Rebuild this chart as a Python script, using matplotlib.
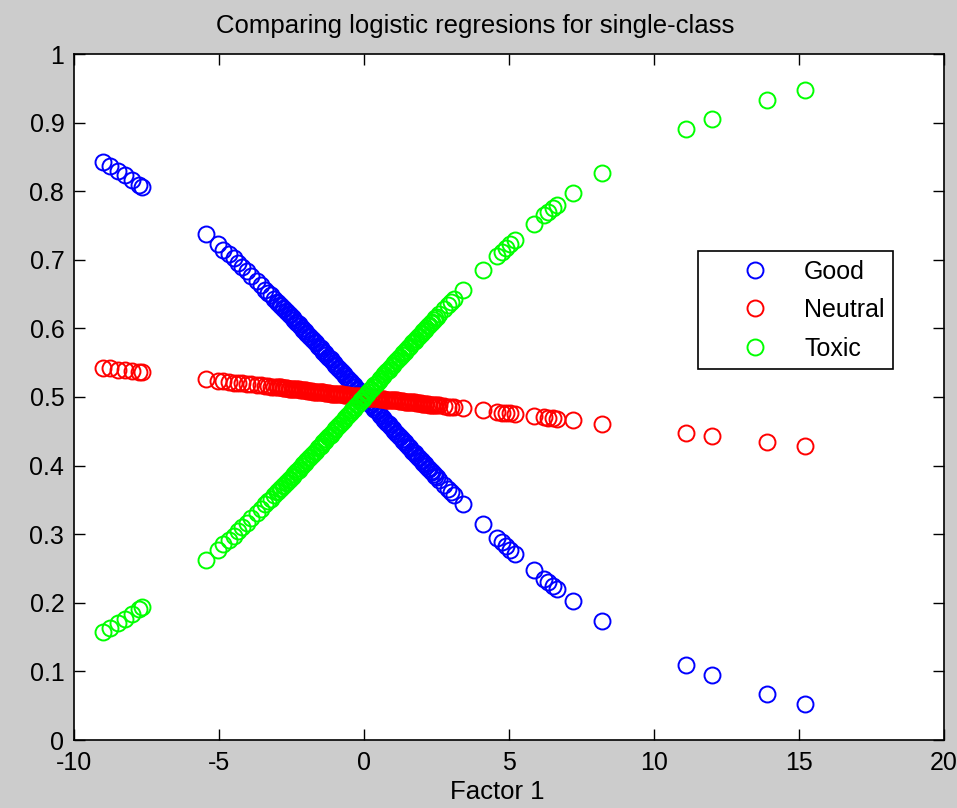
import matplotlib
matplotlib.use("Agg")
import matplotlib.pyplot as plt

# factor-1 scores (shared by the three regressions)
factor1 = [-9.0, -8.75, -8.5, -8.25, -8.0, -7.75, -7.65,
           -5.45, -5.05, -4.85, -4.65, -4.5, -4.35, -4.2, -4.05, -3.9, -3.7, -3.55, -3.4,
           -3.3, -3.2, -3.1, -3.0, -2.9, -2.8, -2.7, -2.6, -2.5, -2.4,
           -2.3, -2.2, -2.1, -2.0, -1.9, -1.8, -1.7, -1.6, -1.5, -1.4,
           -1.3, -1.2, -1.1, -1.0, -0.9, -0.8, -0.7, -0.6, -0.5, -0.4,
           -0.3, -0.2, -0.1,
           0.0, 0.1, 0.2, 0.3, 0.4, 0.5, 0.6, 0.7, 0.8, 0.9,
           1.0, 1.1, 1.2, 1.3, 1.4, 1.5, 1.6, 1.7, 1.8, 1.9,
           2.0, 2.1, 2.2, 2.3, 2.4, 2.5, 2.6,
           2.75, 2.9, 3.0, 3.1, 3.4,
           4.1, 4.6, 4.75, 4.9, 5.05, 5.2, 5.85, 6.2, 6.35, 6.5, 6.65, 7.2, 8.2,
           11.1, 12.0, 13.9, 15.2]

good = [0.843, 0.837, 0.830, 0.823, 0.816, 0.809, 0.806,
        0.738, 0.723, 0.715, 0.708, 0.702, 0.696, 0.690, 0.683, 0.677, 0.669, 0.663, 0.656,
        0.652, 0.648, 0.643, 0.639, 0.634, 0.630, 0.626, 0.621, 0.617, 0.612,
        0.608, 0.603, 0.598, 0.594, 0.589, 0.585, 0.580, 0.575, 0.571, 0.566,
        0.561, 0.557, 0.552, 0.547, 0.543, 0.538, 0.533, 0.528, 0.524, 0.519,
        0.514, 0.510, 0.505,
        0.500, 0.495, 0.490, 0.486, 0.481, 0.476, 0.472, 0.467, 0.462, 0.457,
        0.453, 0.448, 0.443, 0.439, 0.434, 0.429, 0.425, 0.420, 0.415, 0.411,
        0.406, 0.402, 0.397, 0.392, 0.388, 0.383, 0.379,
        0.372, 0.366, 0.361, 0.357, 0.344,
        0.315, 0.294, 0.289, 0.283, 0.277, 0.271, 0.248, 0.235, 0.230, 0.225, 0.220, 0.203, 0.174,
        0.110, 0.095, 0.067, 0.053]

neutral = [0.543, 0.542, 0.540, 0.539, 0.538, 0.537, 0.536,
           0.526, 0.524, 0.523, 0.522, 0.521, 0.521, 0.520, 0.519, 0.519, 0.518, 0.517, 0.516,
           0.516, 0.515, 0.515, 0.514, 0.514, 0.513, 0.513, 0.512, 0.512, 0.511,
           0.511, 0.510, 0.510, 0.510, 0.509, 0.509, 0.508, 0.508, 0.507, 0.507,
           0.506, 0.506, 0.505, 0.505, 0.504, 0.504, 0.503, 0.503, 0.502, 0.502,
           0.501, 0.501, 0.500,
           0.500, 0.500, 0.499, 0.499, 0.498, 0.498, 0.497, 0.497, 0.496, 0.496,
           0.495, 0.495, 0.494, 0.494, 0.493, 0.493, 0.492, 0.492, 0.491, 0.491,
           0.490, 0.490, 0.490, 0.489, 0.489, 0.488, 0.488,
           0.487, 0.486, 0.486, 0.485, 0.484,
           0.481, 0.478, 0.477, 0.477, 0.476, 0.475, 0.472, 0.471, 0.470, 0.469, 0.468, 0.466, 0.461,
           0.447, 0.443, 0.434, 0.428]

toxic = [0.157, 0.163, 0.170, 0.177, 0.184, 0.191, 0.194,
         0.262, 0.277, 0.285, 0.292, 0.298, 0.304, 0.310, 0.317, 0.323, 0.331, 0.337, 0.344,
         0.348, 0.352, 0.357, 0.361, 0.366, 0.370, 0.374, 0.379, 0.383, 0.388,
         0.392, 0.397, 0.402, 0.406, 0.411, 0.415, 0.420, 0.425, 0.429, 0.434,
         0.439, 0.443, 0.448, 0.453, 0.457, 0.462, 0.467, 0.472, 0.476, 0.481,
         0.486, 0.490, 0.495,
         0.500, 0.505, 0.510, 0.514, 0.519, 0.524, 0.528, 0.533, 0.538, 0.543,
         0.547, 0.552, 0.557, 0.561, 0.566, 0.571, 0.575, 0.580, 0.585, 0.589,
         0.594, 0.598, 0.603, 0.608, 0.612, 0.617, 0.621,
         0.628, 0.634, 0.639, 0.643, 0.656,
         0.685, 0.706, 0.711, 0.717, 0.723, 0.729, 0.752, 0.765, 0.770, 0.775, 0.780, 0.797, 0.826,
         0.890, 0.905, 0.933, 0.947]

# extra observations in the crowded middle of the distribution
factor1_core = [-2.95, -2.85, -2.75, -2.65, -2.55, -2.45, -2.35, -2.25, -2.15, -2.05,
                -1.95, -1.85, -1.75, -1.65, -1.55, -1.45, -1.35, -1.25, -1.15, -1.05,
                -0.95, -0.85, -0.75, -0.65, -0.55, -0.45, -0.35, -0.25, -0.15, -0.05,
                0.05, 0.15, 0.25, 0.35, 0.45, 0.55, 0.65, 0.75, 0.85, 0.95,
                1.05, 1.15, 1.25, 1.35, 1.45, 1.55, 1.65, 1.75, 1.85, 1.95,
                2.05, 2.15, 2.25, 2.35, 2.45]

good_core = [0.637, 0.632, 0.628, 0.624, 0.619, 0.615, 0.610, 0.606, 0.601, 0.596,
             0.592, 0.587, 0.583, 0.578, 0.573, 0.569, 0.564, 0.559, 0.555, 0.550,
             0.545, 0.541, 0.536, 0.531, 0.526, 0.522, 0.517, 0.512, 0.508, 0.503,
             0.498, 0.493, 0.488, 0.483, 0.479, 0.474, 0.469, 0.464, 0.460, 0.455,
             0.450, 0.446, 0.441, 0.436, 0.432, 0.427, 0.422, 0.418, 0.413, 0.408,
             0.404, 0.399, 0.395, 0.390, 0.385]

neutral_core = [0.514, 0.514, 0.513, 0.513, 0.512, 0.512, 0.511, 0.511, 0.510, 0.510,
                0.509, 0.509, 0.508, 0.508, 0.507, 0.507, 0.506, 0.506, 0.505, 0.505,
                0.505, 0.504, 0.504, 0.503, 0.503, 0.502, 0.502, 0.501, 0.501, 0.500,
                0.500, 0.499, 0.499, 0.498, 0.498, 0.497, 0.497, 0.496, 0.496, 0.495,
                0.495, 0.495, 0.494, 0.494, 0.493, 0.493, 0.492, 0.492, 0.491, 0.491,
                0.490, 0.490, 0.489, 0.489, 0.488]

toxic_core = [0.363, 0.368, 0.372, 0.376, 0.381, 0.385, 0.390, 0.394, 0.399, 0.404,
              0.408, 0.413, 0.417, 0.422, 0.427, 0.431, 0.436, 0.441, 0.445, 0.450,
              0.455, 0.459, 0.464, 0.469, 0.474, 0.478, 0.483, 0.488, 0.492, 0.497,
              0.502, 0.507, 0.512, 0.517, 0.521, 0.526, 0.531, 0.536, 0.540, 0.545,
              0.550, 0.554, 0.559, 0.564, 0.568, 0.573, 0.578, 0.582, 0.587, 0.592,
              0.596, 0.601, 0.605, 0.610, 0.615]

series_names = ["Good", "Neutral", "Toxic"]
xticks = [-10, -5, 0, 5, 10, 15, 20]
yticks = [0, 0.1, 0.2, 0.3, 0.4, 0.5, 0.6, 0.7, 0.8, 0.9, 1]
ytick_labels = ["0", "0.1", "0.2", "0.3", "0.4", "0.5", "0.6", "0.7", "0.8", "0.9", "1"]

plt.rcParams["font.family"] = ["Liberation Sans Narrow", "Liberation Sans", "DejaVu Sans"]
plt.rcParams["axes.unicode_minus"] = False

fig = plt.figure(figsize=(9.57, 8.08), dpi=100, facecolor="#cccccc")
ax = fig.add_axes([74 / 957, 68 / 808, 870 / 957, 686 / 808])

xs = factor1 + factor1_core
for ys, name, col in zip([good + good_core, neutral + neutral_core, toxic + toxic_core],
                         series_names, ["#0000ff", "#ff0000", "#00ff00"]):
    ax.plot(xs, ys, "o", ls="none", mfc="none", mec=col, ms=11.5, mew=1.4, label=name)

ax.set_xlim(-10, 20); ax.set_ylim(0, 1)
ax.set_xticks(xticks); ax.set_yticks(yticks)
ax.set_yticklabels(ytick_labels)
ax.tick_params(direction="in", length=8, width=1, top=True, right=True,
               labelsize=18, pad=7, colors="black")
ax.tick_params(axis="x", pad=8)
for s in ax.spines.values():
    s.set_linewidth(1.2)

ax.set_title("Comparing logistic regresions for single-class", fontsize=18.5,
             pad=15, x=0.461)
ax.set_xlabel("Factor 1", fontsize=18.5, labelpad=8)
ax.xaxis.set_label_coords(0.486, -0.058)

leg = ax.legend(loc="upper left", bbox_to_anchor=(0.717, 0.713), borderaxespad=0,
                fontsize=18, frameon=True, fancybox=False, edgecolor="black",
                framealpha=1, handletextpad=0.0, borderpad=0.35, labelspacing=0.58,
                handlelength=3.9)
leg.get_frame().set_linewidth(1.2)

fig.savefig("out.png", dpi=100, facecolor=fig.get_facecolor())
